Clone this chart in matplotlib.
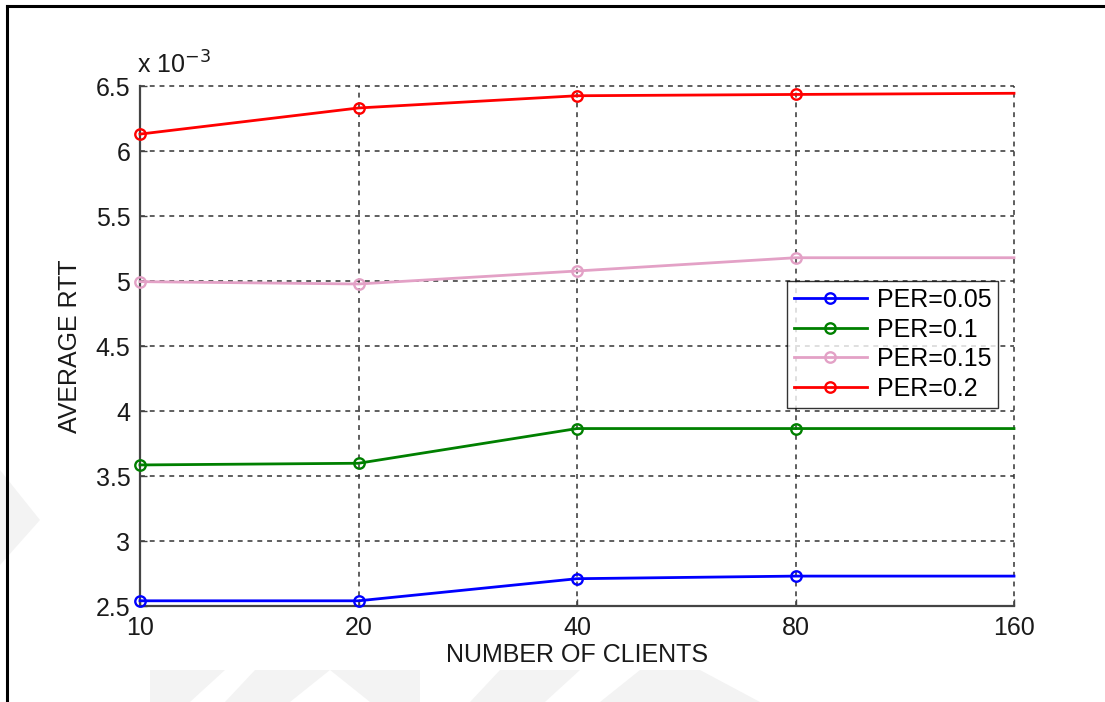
import matplotlib
matplotlib.use("Agg")
import matplotlib.pyplot as plt
from matplotlib.lines import Line2D
from matplotlib.patches import Polygon

plt.rcParams['font.family'] = ['Liberation Sans', 'DejaVu Sans']

# Number of clients (categorical, equally spaced on the axis)
clients = ["10", "20", "40", "80", "160"]

# Average RTT (x 10^-3 s) for each packet error rate
rtt_per005 = [2.54, 2.54, 2.71, 2.73, 2.73]
rtt_per01 = [3.585, 3.598, 3.865, 3.865, 3.865]
rtt_per015 = [4.995, 4.977, 5.077, 5.179, 5.179]
rtt_per02 = [6.13, 6.331, 6.425, 6.435, 6.444]

series_labels = ["PER=0.05", "PER=0.1", "PER=0.15", "PER=0.2"]
series_colors = ["#0000ff", "#008000", "#e3a1c6", "#ff0000"]

yticks = [2.5, 3, 3.5, 4, 4.5, 5, 5.5, 6, 6.5]
ytick_labels = ["2.5", "3", "3.5", "4", "4.5", "5", "5.5", "6", "6.5"]

W, H = 1105, 702
fig = plt.figure(figsize=(W / 100, H / 100), dpi=100)
fig.patch.set_facecolor("white")

# faint background emblem shapes
wm = "#f3f3f3"
for pts in [
    [(150, 670), (225, 670), (190, 702), (150, 702)],
    [(255, 670), (330, 670), (290, 702), (225, 702)],
    [(330, 670), (420, 670), (420, 702), (370, 702)],
    [(500, 670), (580, 670), (545, 702), (470, 702)],
    [(640, 670), (700, 670), (760, 702), (600, 702)],
    [(0, 470), (40, 520), (0, 565)],
]:
    fig.patches.append(Polygon([(x / W, 1 - y / H) for x, y in pts],
                               closed=True, transform=fig.transFigure,
                               facecolor=wm, edgecolor="none", zorder=0))

# page frame (left and top edges)
fig.add_artist(Line2D([7 / W, 7 / W], [0, 1 - 6 / H], transform=fig.transFigure,
                      color="black", linewidth=2.2, solid_capstyle="projecting"))
fig.add_artist(Line2D([7 / W, 1], [1 - 6 / H, 1 - 6 / H], transform=fig.transFigure,
                      color="black", linewidth=2.2, solid_capstyle="projecting"))

ax = fig.add_axes([140 / W, 1 - 606 / H, (1014 - 140) / W, (606 - 86) / H])
ax.set_facecolor("none")

xpos = list(range(len(clients)))
for vals, lab, col in zip([rtt_per005, rtt_per01, rtt_per015, rtt_per02],
                          series_labels, series_colors):
    ax.plot(xpos, vals, color=col, linewidth=2.0, marker="o", markersize=7.5,
            markerfacecolor="none", markeredgecolor=col, markeredgewidth=1.7,
            markevery=[0, 1, 2, 3], label=lab, clip_on=False, zorder=3)

ax.set_xlim(0, len(clients) - 1)
ax.set_ylim(2.5, 6.5)
ax.set_xticks(xpos)
ax.set_xticklabels(clients)
ax.set_yticks(yticks)
ax.set_yticklabels(ytick_labels)

ax.grid(True, color="#333333", linestyle=(0, (3.2, 3.2)), linewidth=1.1)
ax.set_axisbelow(True)
for gl in ax.get_xgridlines() + ax.get_ygridlines():
    gl.set_clip_on(False)
for side in ["top", "right"]:
    ax.spines[side].set_visible(False)
for side in ["left", "bottom"]:
    ax.spines[side].set_color("#444444")
    ax.spines[side].set_linewidth(1.6)

ax.tick_params(direction="in", length=5, width=1.0, color="#444444",
               labelsize=18, labelcolor="#1a1a1a")
ax.tick_params(axis="y", pad=7)
ax.tick_params(axis="x", pad=7)

ax.set_xlabel("NUMBER OF CLIENTS", fontsize=18, color="#1a1a1a", labelpad=2)
ax.set_ylabel("AVERAGE RTT", fontsize=18, color="#1a1a1a", labelpad=10)

ax.text(-0.003, 1.015, r"x 10$^{-3}$", transform=ax.transAxes, fontsize=18,
        color="#1a1a1a", ha="left", va="bottom")

leg = ax.legend(loc="upper right", bbox_to_anchor=(0.982, 0.625), fontsize=18,
                frameon=True, fancybox=False, edgecolor="black",
                handlelength=2.9, handletextpad=0.4, borderpad=0.28,
                labelspacing=0.22, borderaxespad=0.0)
leg.get_frame().set_linewidth(1.0)
leg.set_zorder(5)

fig.savefig("out.png", dpi=100, facecolor="white")
